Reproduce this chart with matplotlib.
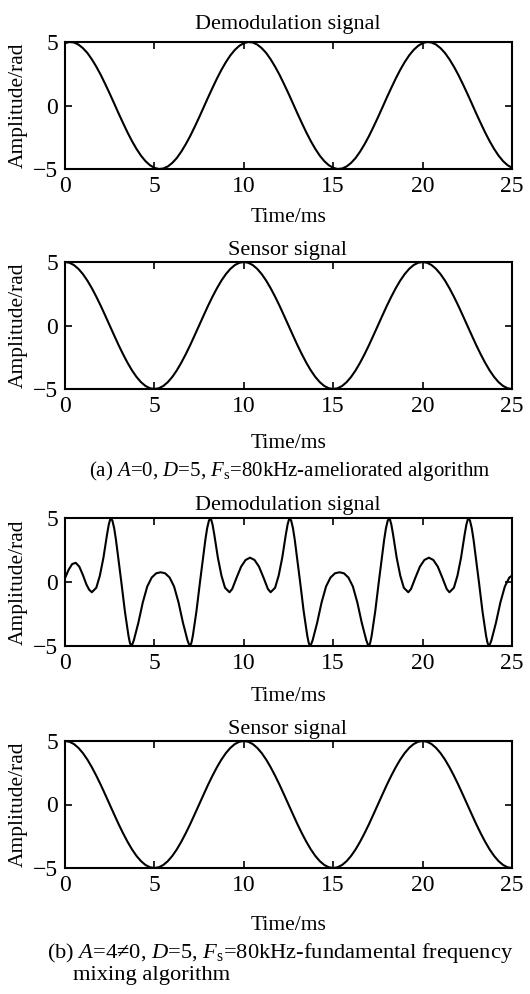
import matplotlib
matplotlib.use('Agg')
import matplotlib.pyplot as plt

plt.rcParams['font.family'] = ['Liberation Serif', 'DejaVu Serif']
plt.rcParams['mathtext.fontset'] = 'custom'
plt.rcParams['mathtext.rm'] = 'Liberation Serif'
plt.rcParams['mathtext.it'] = 'Liberation Serif:italic'
plt.rcParams['font.size'] = 16

# time axis for the smooth signals, ms (0 .. 25 step 0.25)
t_fine = [i * 0.25 for i in range(101)]

# (a) demodulation signal, rad
demod_a = [4.91, 5.00, 4.96, 4.80, 4.52, 4.14, 3.64, 3.06, 2.41, 1.69,
           0.94, 0.16, -0.63, -1.39, -2.13, -2.81, -3.42, -3.95, -4.38, -4.70,
           -4.91, -5.00, -4.96, -4.80, -4.52, -4.14, -3.64, -3.06, -2.41, -1.69,
           -0.94, -0.16, 0.63, 1.39, 2.13, 2.81, 3.42, 3.95, 4.38, 4.70,
           4.91, 5.00, 4.96, 4.80, 4.52, 4.14, 3.64, 3.06, 2.41, 1.69,
           0.94, 0.16, -0.63, -1.39, -2.13, -2.81, -3.42, -3.95, -4.38, -4.70,
           -4.91, -5.00, -4.96, -4.80, -4.52, -4.14, -3.64, -3.06, -2.41, -1.69,
           -0.94, -0.16, 0.63, 1.39, 2.13, 2.81, 3.42, 3.95, 4.38, 4.70,
           4.91, 5.00, 4.96, 4.80, 4.52, 4.14, 3.64, 3.06, 2.41, 1.69,
           0.94, 0.16, -0.63, -1.39, -2.13, -2.81, -3.42, -3.95, -4.38, -4.70,
           -4.91]

# sensor signal, rad (same in (a) and (b))
sensor = [5.00, 4.94, 4.76, 4.46, 4.05, 3.54, 2.94, 2.27, 1.55, 0.78,
          0.00, -0.78, -1.55, -2.27, -2.94, -3.54, -4.05, -4.46, -4.76, -4.94,
          -5.00, -4.94, -4.76, -4.46, -4.05, -3.54, -2.94, -2.27, -1.55, -0.78,
          0.00, 0.78, 1.55, 2.27, 2.94, 3.54, 4.05, 4.46, 4.76, 4.94,
          5.00, 4.94, 4.76, 4.46, 4.05, 3.54, 2.94, 2.27, 1.55, 0.78,
          0.00, -0.78, -1.55, -2.27, -2.94, -3.54, -4.05, -4.46, -4.76, -4.94,
          -5.00, -4.94, -4.76, -4.46, -4.05, -3.54, -2.94, -2.27, -1.55, -0.78,
          0.00, 0.78, 1.55, 2.27, 2.94, 3.54, 4.05, 4.46, 4.76, 4.94,
          5.00, 4.94, 4.76, 4.46, 4.05, 3.54, 2.94, 2.27, 1.55, 0.78,
          0.00, -0.78, -1.55, -2.27, -2.94, -3.54, -4.05, -4.46, -4.76, -4.94,
          -5.00]

# (b) demodulation signal, read point by point
t_b = [0.0, 0.2, 0.4, 0.6, 0.8, 1.0, 1.2, 1.35,
       1.5, 1.75, 1.95, 2.15, 2.25, 2.35, 2.45, 2.55, 2.65, 2.75, 2.85, 2.95,
       3.15, 3.35, 3.55, 3.63, 3.7, 3.77, 3.85, 4.1, 4.35, 4.6, 4.85, 5.1, 5.35,
       5.6, 5.85, 6.1, 6.35, 6.6, 6.85, 6.93, 7.0, 7.07, 7.15, 7.35, 7.55,
       7.75, 7.85, 7.95, 8.05, 8.15, 8.25, 8.35, 8.45, 8.55, 8.75, 8.95, 9.2,
       9.35, 9.6, 9.85, 10.1, 10.35,
       10.6, 10.85, 11.1, 11.35,
       11.5, 11.75, 11.95, 12.15, 12.25, 12.35, 12.45, 12.55, 12.65, 12.75,
       12.85, 12.95, 13.15, 13.35, 13.55, 13.63, 13.7, 13.77, 13.85, 14.1,
       14.35, 14.6, 14.85, 15.1, 15.35,
       15.6, 15.85, 16.1, 16.35, 16.6, 16.85, 16.93, 17.0, 17.07, 17.15,
       17.35, 17.55, 17.75, 17.85, 17.95, 18.05, 18.15, 18.25, 18.35, 18.45,
       18.55, 18.75, 18.95, 19.2, 19.35, 19.6, 19.85, 20.1, 20.35,
       20.6, 20.85, 21.1, 21.35,
       21.5, 21.75, 21.95, 22.15, 22.25, 22.35, 22.45, 22.55, 22.65, 22.75,
       22.85, 22.95, 23.15, 23.35, 23.55, 23.63, 23.7, 23.77, 23.85, 24.1,
       24.35, 24.6, 24.85, 25.0]
demod_b = [0.3, 0.95, 1.4, 1.5, 1.2, 0.55, -0.2, -0.6,
           -0.8, -0.45, 0.5, 1.9, 2.8, 3.7, 4.5, 5.0, 4.8, 4.2, 3.3, 2.2,
           0.0, -2.3, -4.2, -4.75, -5.0, -4.85, -4.55, -3.2, -1.6, -0.35, 0.35, 0.68, 0.76,
           0.68, 0.35, -0.35, -1.6, -3.2, -4.55, -4.85, -5.0, -4.75, -4.2, -2.3, 0.0,
           2.2, 3.3, 4.2, 4.8, 5.0, 4.5, 3.7, 2.8, 1.9, 0.5, -0.45, -0.8,
           -0.55, 0.35, 1.2, 1.72, 1.9,
           1.72, 1.2, 0.35, -0.55,
           -0.8, -0.45, 0.5, 1.9, 2.8, 3.7, 4.5, 5.0, 4.8, 4.2,
           3.3, 2.2, 0.0, -2.3, -4.2, -4.75, -5.0, -4.85, -4.55, -3.2,
           -1.6, -0.35, 0.35, 0.68, 0.76,
           0.68, 0.35, -0.35, -1.6, -3.2, -4.55, -4.85, -5.0, -4.75, -4.2,
           -2.3, 0.0, 2.2, 3.3, 4.2, 4.8, 5.0, 4.5, 3.7, 2.8,
           1.9, 0.5, -0.45, -0.8, -0.55, 0.35, 1.2, 1.72, 1.9,
           1.72, 1.2, 0.35, -0.55,
           -0.8, -0.45, 0.5, 1.9, 2.8, 3.7, 4.5, 5.0, 4.8, 4.2,
           3.3, 2.2, 0.0, -2.3, -4.2, -4.75, -5.0, -4.85, -4.55, -3.2,
           -1.6, -0.35, 0.35, 0.5]

x_ticks = [0, 5, 10, 15, 20, 25]
y_ticks = [-5, 0, 5]

W, H = 530, 994
fig = plt.figure(figsize=(W / 100, H / 100), dpi=100)


def px_text(x, y, s, **kw):
    fig.text(x / W, 1 - y / H, s, **kw)


def make_panel(top, bottom, t, y, title, title_y, xlabel_y):
    ax = fig.add_axes([65 / W, 1 - bottom / H, 447 / W, (bottom - top) / H])
    ax.plot(t, y, color='black', lw=1.5)
    ax.set_xlim(0, 25)
    ax.set_ylim(-5, 5)
    ax.set_xticks(x_ticks)
    ax.set_yticks(y_ticks)
    ax.tick_params(direction='in', top=True, right=True, length=5, width=1.2,
                   labelsize=17, pad=5)
    for sp in ax.spines.values():
        sp.set_linewidth(1.5)
    mid = (top + bottom) / 2
    px_text(288, title_y, title, ha='center', va='baseline', fontsize=16)
    px_text(289, xlabel_y, 'Time/ms', ha='center', va='baseline', fontsize=15.5)
    px_text(18, mid, 'Amplitude/rad', ha='center', va='center', rotation=90, fontsize=15.5)
    return ax


make_panel(42, 169, t_fine, demod_a, 'Demodulation signal', 29, 222)
make_panel(262, 389, t_fine, sensor, 'Sensor signal', 255, 448)
px_text(290, 476, r'(a) $A$=0, $D$=5, $F_{\rm s}$=80kHz-ameliorated algorithm',
        ha='center', va='baseline', fontsize=15)

make_panel(518, 646, t_b, demod_b, 'Demodulation signal', 510, 701)
make_panel(741, 868, t_fine, sensor, 'Sensor signal', 734, 930)
px_text(47, 958, '(b) $A$=4\u22600, $D$=5, $F_{\\rm s}$=80kHz-fundamental frequency',
        ha='left', va='baseline', fontsize=16.2)
px_text(73, 980, 'mixing algorithm', ha='left', va='baseline', fontsize=16.2)

fig.savefig('out.png', dpi=100)
